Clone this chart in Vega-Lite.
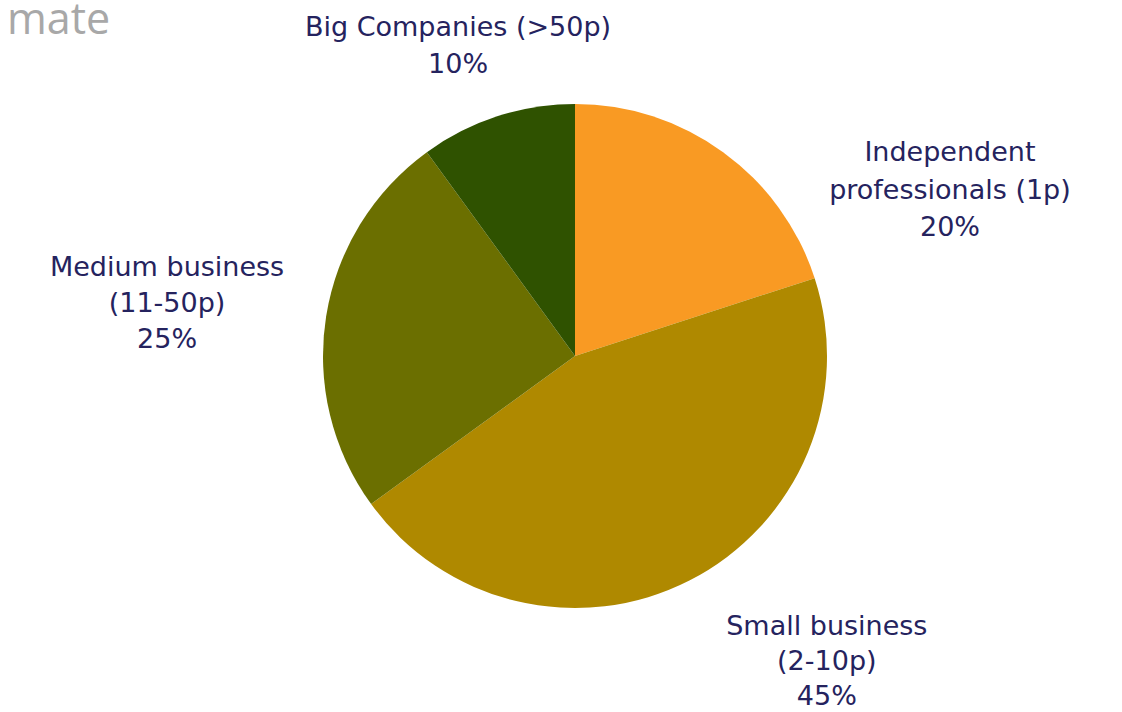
{
  "$schema": "https://vega.github.io/schema/vega-lite/v6.json",
  "width": 1150,
  "height": 632,
  "autosize": {"type": "none"},
  "padding": {"left": 0, "right": 0, "top": 40, "bottom": 40},
  "background": "white",
  "title": {
    "text": "mate",
    "anchor": "start",
    "frame": "group",
    "fontSize": 43,
    "font": "Open Sans",
    "fontWeight": 400,
    "color": "#A8A8A8",
    "baseline": "alphabetic",
    "dx": 7,
    "dy": 85,
    "offset": 0
  },
  "data": {
    "values": [
      {"category": "Independent professionals (1p)", "value": 20, "label": "Independent\nprofessionals (1p)\n20%", "order": 1},
      {"category": "Small business (2-10p)", "value": 45, "label": "Small business\n(2-10p)\n45%", "order": 2},
      {"category": "Medium business (11-50p)", "value": 25, "label": "Medium business\n(11-50p)\n25%", "order": 3},
      {"category": "Big Companies (>50p)", "value": 10, "label": "Big Companies (>50p)\n10%", "order": 4}
    ]
  },
  "encoding": {
    "theta": {"field": "value", "type": "quantitative", "stack": true},
    "order": {"field": "order", "type": "quantitative"}
  },
  "layer": [
    {
      "mark": {"type": "arc", "outerRadius": 252},
      "encoding": {
        "color": {
          "field": "category",
          "type": "nominal",
          "scale": {
            "domain": ["Independent professionals (1p)", "Small business (2-10p)", "Medium business (11-50p)", "Big Companies (>50p)"],
            "range": ["#F99A23", "#AF8900", "#6B6F00", "#2F5200"]
          },
          "legend": null
        }
      }
    },
    {
      "mark": {"type": "text", "radius": 330, "dx": 181, "dy": 64, "align": "center", "baseline": "middle", "lineBreak": "\n", "lineHeight": 37.5, "fontSize": 27, "font": "DejaVu Sans", "color": "#25235E"},
      "encoding": {
        "text": {"condition": {"test": "datum.order === 1", "field": "label"}, "value": ""}
      }
    },
    {
      "mark": {"type": "text", "radius": 330, "dx": 102, "dy": -23, "align": "center", "baseline": "middle", "lineBreak": "\n", "lineHeight": 35, "fontSize": 27, "font": "DejaVu Sans", "color": "#25235E"},
      "encoding": {
        "text": {"condition": {"test": "datum.order === 2", "field": "label"}, "value": ""}
      }
    },
    {
      "mark": {"type": "text", "radius": 330, "dx": -82, "dy": -36, "align": "center", "baseline": "middle", "lineBreak": "\n", "lineHeight": 36, "fontSize": 27, "font": "DejaVu Sans", "color": "#25235E"},
      "encoding": {
        "text": {"condition": {"test": "datum.order === 3", "field": "label"}, "value": ""}
      }
    },
    {
      "mark": {"type": "text", "radius": 330, "dx": -15, "dy": -14, "align": "center", "baseline": "middle", "lineBreak": "\n", "lineHeight": 37, "fontSize": 27, "font": "DejaVu Sans", "color": "#25235E"},
      "encoding": {
        "text": {"condition": {"test": "datum.order === 4", "field": "label"}, "value": ""}
      }
    }
  ],
  "config": {"view": {"stroke": null}}
}
